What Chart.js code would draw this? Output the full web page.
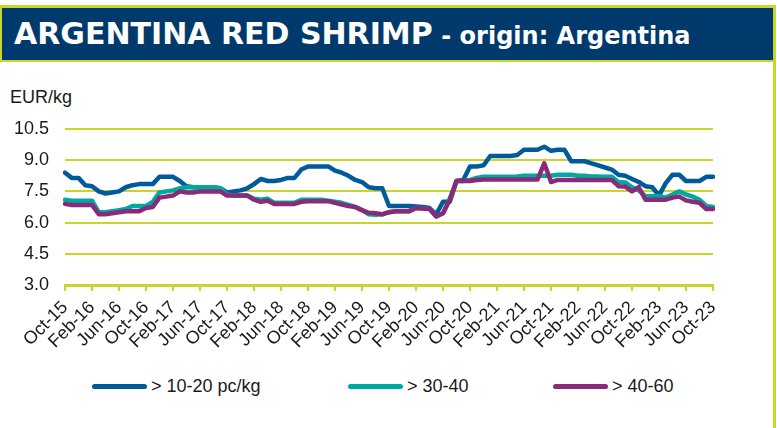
<!DOCTYPE html>
<html><head><meta charset="utf-8">
<script src="https://cdn.jsdelivr.net/npm/chart.js@4.4.0/dist/chart.umd.min.js"></script>
<style>
html,body{margin:0;padding:0;background:#fff;width:777px;height:428px;overflow:hidden;font-family:"Liberation Sans",Arial,sans-serif;}
#frame{position:absolute;left:0;top:5px;width:776px;height:423px;border-top:3px solid #c8d62b;border-right:3px solid #c8d62b;box-sizing:border-box;}
#banner{position:absolute;left:0;top:8px;width:773px;height:54px;background:#003a6c;border-left:2px solid #c8d62b;border-bottom:2px solid #c8d62b;box-sizing:border-box;line-height:52px;white-space:nowrap;color:#fff;font-family:"DejaVu Sans",sans-serif;font-weight:bold;padding-left:12px;}
#banner .big{font-size:30px;}
#banner .small{font-size:24px;margin-left:3px;}
#unit{position:absolute;left:10px;top:87px;font-size:18px;line-height:20px;color:#1a1a1a;}
#c{position:absolute;left:0;top:62px;}
#legend{position:absolute;left:0;top:376px;width:770px;height:20px;}
.item{position:absolute;top:0;height:20px;display:flex;align-items:center;font-size:18px;color:#1a1a1a;white-space:nowrap;}
.item .ln{display:inline-block;width:55px;height:5px;border-radius:3px;margin-right:4px;}
</style></head>
<body>
<div id="frame"></div>
<div id="banner"><span class="big">ARGENTINA RED SHRIMP</span> <span class="small">- origin: Argentina</span></div>
<div id="unit">EUR/kg</div>
<canvas id="c" width="770" height="300"></canvas>
<div id="legend"></div>
<script>
const months = ["Oct-15","Nov-15","Dec-15","Jan-16","Feb-16","Mar-16","Apr-16","May-16","Jun-16","Jul-16","Aug-16","Sep-16",
"Oct-16","Nov-16","Dec-16","Jan-17","Feb-17","Mar-17","Apr-17","May-17","Jun-17","Jul-17","Aug-17","Sep-17",
"Oct-17","Nov-17","Dec-17","Jan-18","Feb-18","Mar-18","Apr-18","May-18","Jun-18","Jul-18","Aug-18","Sep-18",
"Oct-18","Nov-18","Dec-18","Jan-19","Feb-19","Mar-19","Apr-19","May-19","Jun-19","Jul-19","Aug-19","Sep-19",
"Oct-19","Nov-19","Dec-19","Jan-20","Feb-20","Mar-20","Apr-20","May-20","Jun-20","Jul-20","Aug-20","Sep-20",
"Oct-20","Nov-20","Dec-20","Jan-21","Feb-21","Mar-21","Apr-21","May-21","Jun-21","Jul-21","Aug-21","Sep-21",
"Oct-21","Nov-21","Dec-21","Jan-22","Feb-22","Mar-22","Apr-22","May-22","Jun-22","Jul-22","Aug-22","Sep-22",
"Oct-22","Nov-22","Dec-22","Jan-23","Feb-23","Mar-23","Apr-23","May-23","Jun-23","Jul-23","Aug-23","Sep-23",
"Oct-23"];
const tickLabels = ["Oct-15","Feb-16","Jun-16","Oct-16","Feb-17","Jun-17","Oct-17","Feb-18","Jun-18","Oct-18","Feb-19","Jun-19",
"Oct-19","Feb-20","Jun-20","Oct-20","Feb-21","Jun-21","Oct-21","Feb-22","Jun-22","Oct-22","Feb-23","Jun-23","Oct-23"];
const yTicks = [3.0, 4.5, 6.0, 7.5, 9.0, 10.5];

const size10_20 = [8.4,8.15,8.15,7.8,7.75,7.5,7.4,7.45,7.5,7.7,7.8,7.85,
7.85,7.85,8.2,8.2,8.2,8.0,7.75,7.7,7.7,7.7,7.7,7.65,
7.45,7.5,7.55,7.65,7.85,8.1,8.0,8.0,8.05,8.15,8.15,8.55,
8.7,8.7,8.7,8.7,8.5,8.4,8.25,8.05,7.95,7.7,7.65,7.65,
6.8,6.8,6.8,6.8,6.78,6.75,6.7,6.4,7.0,7.0,8.0,8.05,
8.7,8.7,8.75,9.2,9.2,9.2,9.2,9.25,9.5,9.5,9.5,9.65,
9.45,9.5,9.5,8.95,8.95,8.95,8.85,8.75,8.65,8.55,8.3,8.25,
8.1,7.95,7.75,7.7,7.3,7.9,8.3,8.3,8.0,8.0,8.0,8.2,
8.2];
const size30_40 = [7.1,7.05,7.05,7.05,7.05,6.5,6.5,6.55,6.6,6.65,6.8,6.8,
6.8,7.0,7.45,7.5,7.55,7.65,7.7,7.7,7.7,7.7,7.7,7.65,
7.35,7.3,7.3,7.3,7.15,7.1,7.15,6.95,6.95,6.95,6.95,7.1,
7.1,7.1,7.1,7.05,7.0,6.95,6.85,6.75,6.6,6.4,6.38,6.4,
6.5,6.55,6.55,6.55,6.7,6.68,6.65,6.3,6.45,7.15,8.0,8.0,
8.05,8.15,8.2,8.2,8.2,8.2,8.2,8.22,8.25,8.25,8.25,8.25,
8.25,8.3,8.3,8.3,8.25,8.25,8.22,8.22,8.2,8.2,7.95,7.93,
7.7,7.55,7.27,7.27,7.27,7.2,7.35,7.5,7.35,7.25,7.1,6.8,
6.75];
const size40_60 = [6.9,6.85,6.85,6.85,6.85,6.4,6.4,6.45,6.5,6.55,6.55,6.55,
6.7,6.75,7.2,7.25,7.3,7.5,7.45,7.45,7.5,7.5,7.5,7.5,
7.3,7.3,7.3,7.3,7.1,7.0,7.05,6.9,6.9,6.9,6.9,7.0,
7.03,7.03,7.03,7.03,6.95,6.87,6.8,6.75,6.6,6.47,6.45,6.4,
6.5,6.55,6.55,6.55,6.7,6.68,6.65,6.3,6.45,7.1,8.0,8.0,
8.0,8.05,8.07,8.07,8.07,8.07,8.07,8.07,8.07,8.07,8.07,8.85,
7.95,8.05,8.05,8.05,8.05,8.05,8.05,8.05,8.05,8.05,7.75,7.73,
7.5,7.7,7.1,7.1,7.1,7.1,7.2,7.25,7.07,7.0,6.95,6.65,
6.65];

const seriesNames = ["> 10-20 pc/kg", "> 30-40", "> 40-60"];
const seriesColors = ["#005a9b", "#00a9a0", "#8a2a7a"];
const seriesData = [size10_20, size30_40, size40_60];

const lime = "#c8d62b";
const txt = "#1a1a1a";
const fam = "'Liberation Sans', Arial, sans-serif";

// legend
const legendLeft = [92, 348, 553];
const lg = document.getElementById('legend');
seriesNames.forEach((n, i) => {
  const d = document.createElement('div');
  d.className = 'item';
  d.style.left = legendLeft[i] + 'px';
  const l = document.createElement('span');
  l.className = 'ln';
  l.style.background = seriesColors[i];
  d.appendChild(l);
  d.appendChild(document.createTextNode(n));
  lg.appendChild(d);
});

new Chart(document.getElementById('c'), {
  type: 'line',
  data: {
    labels: months,
    datasets: seriesData.map((d, i) => ({
      label: seriesNames[i],
      data: d,
      borderColor: seriesColors[i],
      backgroundColor: seriesColors[i],
      borderWidth: 4.5,
      order: 3 - i,
      pointRadius: 0,
      tension: 0,
      borderJoinStyle: 'round',
      borderCapStyle: 'round',
      fill: false
    }))
  },
  options: {
    responsive: false,
    animation: false,
    devicePixelRatio: 1,
    layout: { padding: { left: 10, right: 57, top: 67, bottom: 7 } },
    plugins: { legend: { display: false }, tooltip: { enabled: false }, title: { display: false } },
    scales: {
      x: {
        grid: { display: true, drawOnChartArea: false, drawTicks: true, tickLength: 6, color: lime, lineWidth: 2 },
        border: { display: true, color: lime, width: 3 },
        ticks: {
          autoSkip: false, maxRotation: 45, minRotation: 45, padding: 6, color: txt,
          font: { family: fam, size: 18 },
          callback: function(v, i) { const l = months[i]; return tickLabels.includes(l) ? l : null; }
        },
        afterFit: s => { s.height = 70; }
      },
      y: {
        min: 3, max: 10.5,
        afterBuildTicks: s => { s.ticks = yTicks.map(v => ({ value: v })); },
        ticks: { padding: 16, color: txt, font: { family: fam, size: 18 }, callback: v => Number(v).toFixed(1) },
        grid: { color: lime, lineWidth: 2, drawTicks: false },
        border: { display: false },
        afterFit: s => { s.width = 55; }
      }
    }
  }
});
</script>
</body></html>
